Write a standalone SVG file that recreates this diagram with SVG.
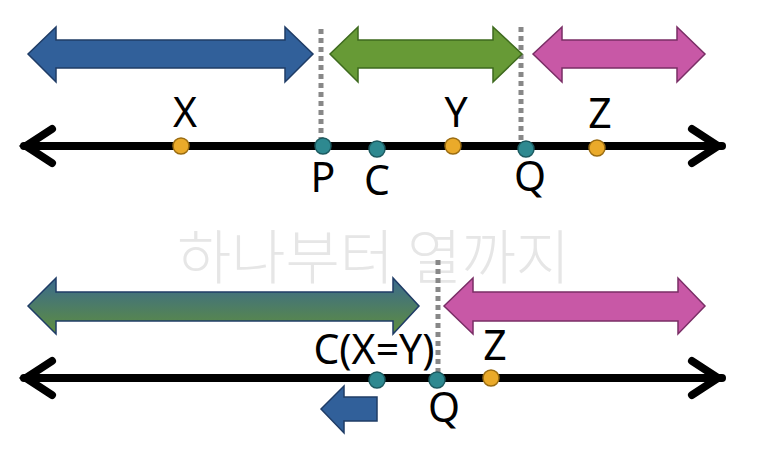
<svg xmlns="http://www.w3.org/2000/svg" width="773" height="453" viewBox="0 0 773 453">
<defs>
<linearGradient id="gBG" x1="0" y1="0" x2="0" y2="1">
<stop offset="0" stop-color="#3a6a8e"/>
<stop offset="1" stop-color="#5f8e3e"/>
</linearGradient>
<style>
.lbl{font-family:"Noto Sans","Open Sans","Liberation Sans",sans-serif;font-size:41px;fill:#000;text-anchor:middle}
.wm{font-family:"Noto Sans CJK KR","Noto Sans",sans-serif;font-size:59px;font-weight:300;fill:#e6e6e6}
.axis{stroke:#000;stroke-width:8;fill:none;stroke-linecap:round}
.head{stroke:#000;stroke-width:8;fill:none;stroke-linecap:round;stroke-linejoin:miter}
.dot{stroke:#888;stroke-width:5;stroke-dasharray:5 4;fill:none}
.blue{fill:#31609a;stroke:#1f3c66;stroke-width:1.5}
.green{fill:#679a36;stroke:#3e6a1e;stroke-width:1.5}
.pink{fill:#c858a6;stroke:#7a2e66;stroke-width:1.5}
.grad{fill:url(#gBG);stroke:#1f3c66;stroke-width:1.5}
.org{fill:#eaaa2a;stroke:#9a6c12;stroke-width:1.5}
.teal{fill:#2e8990;stroke:#1c5a60;stroke-width:1.5}
</style>
</defs>
<rect width="773" height="453" fill="#fff"/>
<text class="wm" x="177" y="279">하나부터 열까지</text>
<g id="connectors">
<line class="dot" x1="321" y1="29" x2="321" y2="140"/>
<line class="dot" x1="521" y1="27" x2="521" y2="143"/>
<line class="dot" x1="438" y1="260" x2="438" y2="372"/>
<line class="axis" x1="24" y1="146" x2="722" y2="146"/>
<polyline class="head" points="52,129 26,146 52,163"/>
<polyline class="head" points="692,129 718,146 692,163"/>
<line class="axis" x1="24" y1="378" x2="722" y2="378"/>
<polyline class="head" points="52,361 26,378 52,395"/>
<polyline class="head" points="692,361 718,378 692,395"/>
</g>
<g id="arrow-blue"><polygon class="blue" points="28,54 56,27 56,40 285,40 285,27 313,54 285,82 285,68 56,68 56,82"/></g>
<g id="arrow-green"><polygon class="green" points="330,54 358,27 358,40 493,40 493,27 522,54 493,82 493,68 358,68 358,82"/></g>
<g id="arrow-pink"><polygon class="pink" points="533,54 562,27 562,40 677,40 677,27 705,54 677,82 677,68 562,68 562,82"/></g>
<g id="arrow-grad"><polygon class="grad" points="28,306 56,278 56,292 393,292 393,278 419,306 393,334 393,321 56,321 56,334"/></g>
<g id="arrow-pink2"><polygon class="pink" points="444,306 473,278 473,292 678,292 678,278 705,306 678,334 678,321 473,321 473,334"/></g>
<g id="arrow-small"><polygon class="blue" points="321,409 344,386 344,397 377,397 377,421 344,421 344,433"/></g>
<g id="pt-X"><circle class="org" cx="181" cy="146" r="8"/><text class="lbl" x="185" y="127">X</text></g>
<g id="pt-P"><circle class="teal" cx="323" cy="146" r="8"/><text class="lbl" x="323" y="192">P</text></g>
<g id="pt-C"><circle class="teal" cx="377" cy="149" r="8"/><text class="lbl" x="377" y="195">C</text></g>
<g id="pt-Y"><circle class="org" cx="453" cy="146" r="8"/><text class="lbl" x="456" y="127">Y</text></g>
<g id="pt-Q"><circle class="teal" cx="526" cy="149" r="8"/><text class="lbl" x="530" y="191">Q</text></g>
<g id="pt-Z"><circle class="org" cx="597" cy="148" r="8"/><text class="lbl" x="600" y="128">Z</text></g>
<g id="pt-C2"><circle class="teal" cx="377" cy="380" r="8"/><text class="lbl" x="374" y="364">C(X=Y)</text></g>
<g id="pt-Q2"><circle class="teal" cx="437" cy="380" r="8"/><text class="lbl" x="444" y="422">Q</text></g>
<g id="pt-Z2"><circle class="org" cx="491" cy="378" r="8"/><text class="lbl" x="495" y="360">Z</text></g>
</svg>
